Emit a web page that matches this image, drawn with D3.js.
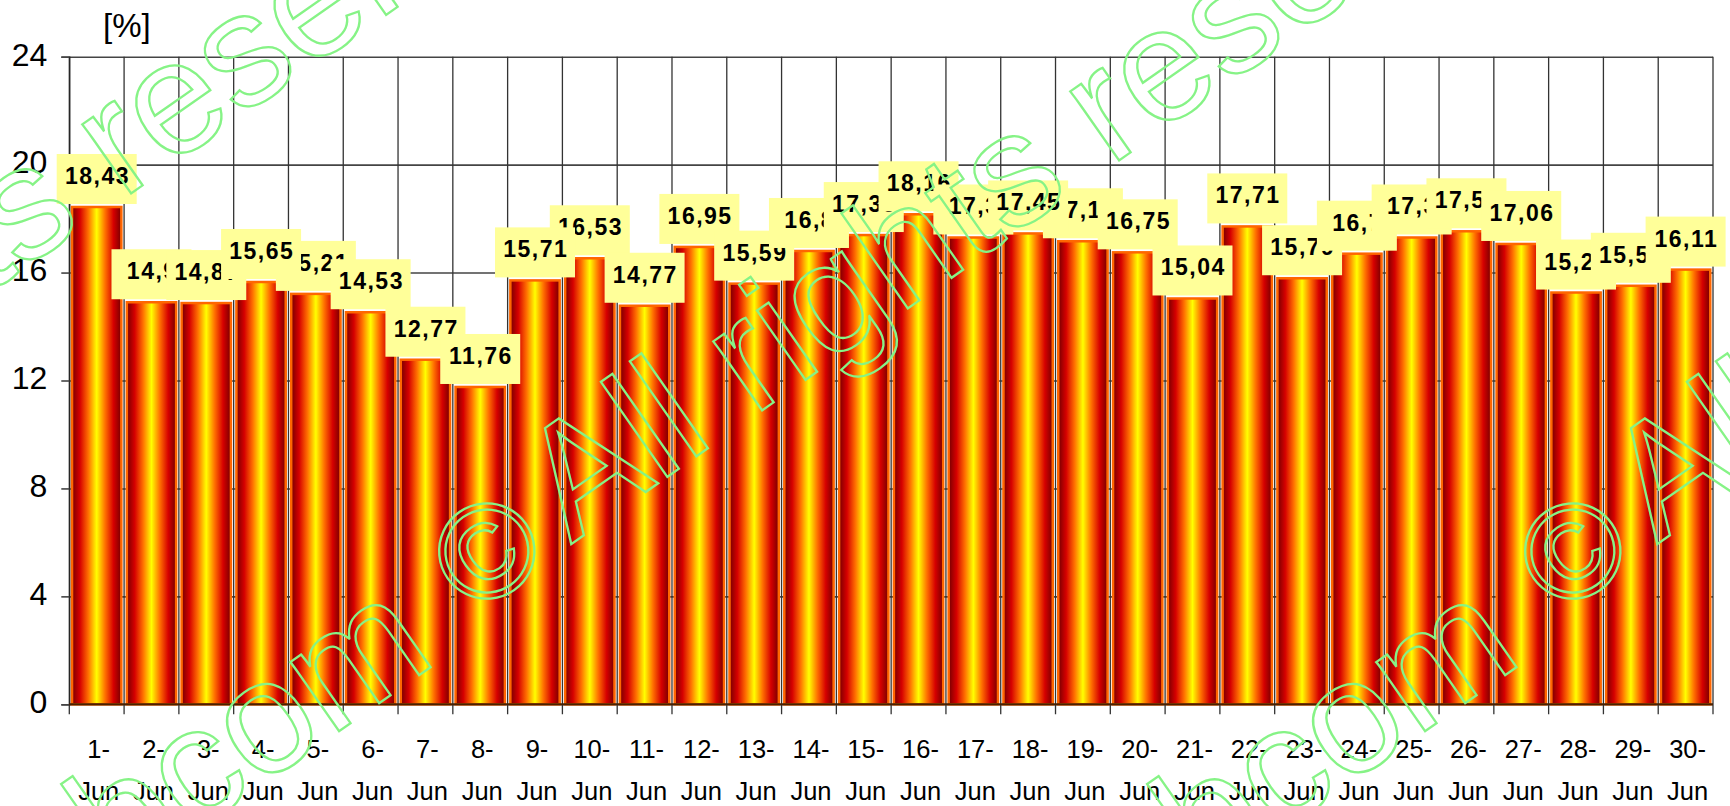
<!DOCTYPE html>
<html><head><meta charset="utf-8">
<script src="https://cdn.jsdelivr.net/npm/d3@7"></script>
<style>
html,body{margin:0;padding:0;background:#fff;}
svg{display:block;}
text{font-family:"Liberation Sans",Arial,Helvetica,sans-serif;}
</style></head><body>
<svg id="chart" width="1730" height="806"></svg>
<script>
// ---- data ----
const categories = ["1-Jun","2-Jun","3-Jun","4-Jun","5-Jun","6-Jun","7-Jun","8-Jun","9-Jun","10-Jun",
  "11-Jun","12-Jun","13-Jun","14-Jun","15-Jun","16-Jun","17-Jun","18-Jun","19-Jun","20-Jun",
  "21-Jun","22-Jun","23-Jun","24-Jun","25-Jun","26-Jun","27-Jun","28-Jun","29-Jun","30-Jun"];
const values = [18.43,14.9,14.87,15.65,15.21,14.53,12.77,11.76,15.71,16.53,
  14.77,16.95,15.59,16.8,17.39,18.16,17.3,17.45,17.16,16.75,
  15.04,17.71,15.79,16.7,17.3,17.53,17.06,15.26,15.51,16.11];
const yTicks = [0,4,8,12,16,20,24];
const yUnit = "[%]";
const watermarkText = ["bcom","\u00A9","All rights reserved"];
// labels drawn last (they sit over their neighbours in the original)
const labelsOnTop = ["4-Jun","9-Jun","18-Jun"];

// ---- layout ----
const W = 1730, H = 806;
const pLeft = 69.3, pRight = 1713, pTop = 56.7, pBottom = 704.3;
const svg = d3.select("#chart");
svg.append("rect").attr("width", W).attr("height", H).attr("fill", "#fff");

const defs = svg.append("defs");
const grad = defs.append("linearGradient").attr("id", "barGrad")
  .attr("x1", "0%").attr("x2", "100%").attr("y1", "0%").attr("y2", "0%");
[[0,"#760000"],[0.16,"#d60000"],[0.33,"#ff7000"],[0.5,"#ffff00"],[0.67,"#ff7000"],[0.84,"#d60000"],[1,"#760000"]]
  .forEach(([o,c]) => grad.append("stop").attr("offset", o).attr("stop-color", c));

const x = d3.scaleBand().domain(categories).range([pLeft, pRight]).paddingInner(0.1).paddingOuter(0.05);
const y = d3.scaleLinear().domain([0, 24]).range([pBottom, pTop]);
const step = x.step();
const boundaries = d3.range(categories.length + 1).map(i => pLeft + i * step);

// horizontal grid
svg.append("g").attr("transform", `translate(${pLeft},0)`)
  .call(d3.axisLeft(y).tickValues(yTicks).tickSize(-(pRight - pLeft)).tickFormat(""))
  .call(g => { g.select(".domain").remove();
    g.selectAll("line").attr("stroke", "#444").attr("stroke-width", 1.6); });

// vertical grid + x ticks at category boundaries
svg.append("g").selectAll("line").data(boundaries).join("line")
  .attr("x1", d => d).attr("x2", d => d).attr("y1", pTop).attr("y2", pBottom + 10)
  .attr("stroke", "#333").attr("stroke-width", 1.3);

// y axis labels + ticks
svg.append("g").attr("transform", `translate(${pLeft},0)`)
  .call(d3.axisLeft(y).tickValues(yTicks).tickSize(8).tickPadding(14).tickFormat(d3.format("d")))
  .call(g => {
    g.select(".domain").attr("stroke", "#222").attr("stroke-width", 1.3);
    g.selectAll("line").attr("stroke", "#444").attr("stroke-width", 1.6);
    g.selectAll("text").attr("font-size", 32).attr("fill", "#000")
      .attr("font-family", '"Liberation Sans",Arial,sans-serif').attr("dy", "0.26em");
  });

svg.append("text").attr("x", 103).attr("y", 37).attr("font-size", 33).attr("fill", "#000").text(yUnit);

// bars
svg.append("g").selectAll("rect").data(values).join("rect")
  .attr("x", (d, i) => x(categories[i]))
  .attr("width", x.bandwidth())
  .attr("y", d => y(d))
  .attr("height", d => pBottom - y(d))
  .attr("fill", "url(#barGrad)")
  .attr("stroke", "#ff6600").attr("stroke-width", 2.5);

// x axis line
svg.append("line").attr("x1", pLeft).attr("x2", pRight).attr("y1", pBottom).attr("y2", pBottom)
  .attr("stroke", "#4a2000").attr("stroke-width", 2);

// x labels
const xl = svg.append("g").selectAll("text").data(categories).join("text")
  .attr("text-anchor", "middle").attr("font-size", 25.5).attr("fill", "#000");
xl.each(function(c) {
  const cx = x(c) + x.bandwidth() / 2 + 2;
  const parts = c.split("-");
  const t = d3.select(this);
  t.append("tspan").attr("x", cx).attr("y", 758).text(parts[0] + "-");
  t.append("tspan").attr("x", cx).attr("y", 800).text(parts[1]);
});

// data labels
const fmt = v => String(v).replace(".", ",");
const labelData = values.map((v, i) => ({ c: categories[i], v }));
const lg = svg.append("g").selectAll("g").data(labelData).join("g")
  .attr("transform", d => `translate(${x(d.c) + x.bandwidth() / 2},${y(d.v) - 53})`);
lg.append("rect").attr("x", -40).attr("y", 0).attr("width", 80).attr("height", 50).attr("fill", "#ffff99");
lg.append("text").attr("x", 0.75).attr("y", 30).attr("text-anchor", "middle")
  .attr("font-size", 23).attr("font-weight", "bold").attr("letter-spacing", 1.5).attr("fill", "#000")
  .text(d => fmt(d.v));
lg.filter(d => labelsOnTop.includes(d.c)).raise();

// watermark
const wmCenters = [[-502, 583], [486, 550], [1572, 550]];
const wm = svg.append("g").attr("fill", "none").attr("stroke", "#86f386").attr("stroke-width", 2.3);
wmCenters.forEach(([cx, cy]) => {
  const g = wm.append("g").attr("transform", `translate(${cx},${cy}) rotate(-35)`);
  g.append("text").attr("x", -102).attr("y", 64).attr("text-anchor", "end").attr("font-size", 160).text(watermarkText[0]);
  g.append("text").attr("x", 0).attr("y", 48).attr("text-anchor", "middle").attr("font-size", 135).text(watermarkText[1]);
  g.append("text").attr("x", 73).attr("y", 44).attr("text-anchor", "start").attr("font-size", 160).text(watermarkText[2]);
});
</script>
</body></html>
